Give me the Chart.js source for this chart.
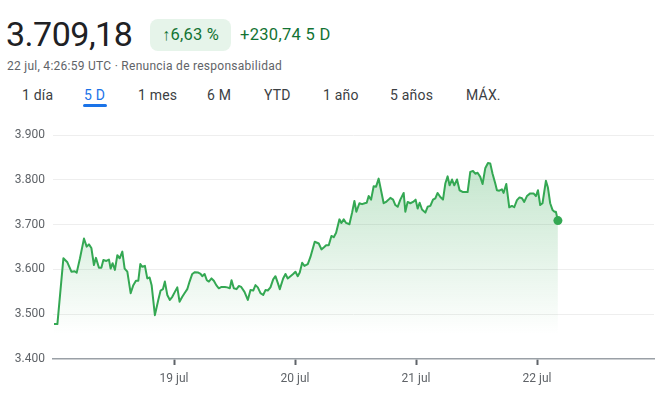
<!DOCTYPE html>
<html>
<head>
<meta charset="utf-8">
<script src="https://cdn.jsdelivr.net/npm/chart.js@4/dist/chart.umd.min.js"></script>
<style>
  body { margin:0; background:#fff; font-family: Roboto, "Noto Sans", sans-serif; }
  #wrap { position:relative; width:669px; height:393px; overflow:hidden; }
  .abs { position:absolute; white-space:nowrap; }
  #price { left:6px; top:14px; font-size:34px; color:#202124; letter-spacing:-0.5px; }
  #badge { left:150px; top:19px; width:81px; height:32px; background:#e6f4ea; border-radius:8px;
           color:#137333; font-size:16.5px; line-height:32px; text-align:center; letter-spacing:0.2px; }
  #chg { left:240px; top:19px; line-height:32px; font-size:16.5px; color:#137333; letter-spacing:0.3px; }
  #sub { left:7px; top:59px; font-size:12px; color:#5f6368; letter-spacing:0.27px; }
  .tab { top:87px; font-size:14px; color:#3c4043; letter-spacing:0.2px; }
  .tab.on { color:#1a73e8; }
  #under { left:83px; top:104px; width:24px; height:3px; border-radius:2px; background:#1a73e8; }
  #box { position:absolute; left:0; top:120px; width:669px; height:273px; }
</style>
</head>
<body>
<div id="wrap">
  <div id="price" class="abs">3.709,18</div>
  <div id="badge" class="abs">↑6,63 %</div>
  <div id="chg" class="abs">+230,74 5 D</div>
  <div id="sub" class="abs">22 jul, 4:26:59 UTC · Renuncia de responsabilidad</div>
  <div class="abs tab" style="left:22px">1 día</div>
  <div class="abs tab on" style="left:84px">5 D</div>
  <div class="abs tab" style="left:138px">1 mes</div>
  <div class="abs tab" style="left:207px">6 M</div>
  <div class="abs tab" style="left:264px">YTD</div>
  <div class="abs tab" style="left:323px">1 año</div>
  <div class="abs tab" style="left:390px">5 años</div>
  <div class="abs tab" style="left:466px">MÁX.</div>
  <div id="under" class="abs"></div>
  <div id="box"><canvas id="lineChart"></canvas></div>
</div>

<script>
// hours since 18 jul 00:00 UTC
var hours = [0.20,0.87,2.06,2.85,3.65,4.30,4.70,5.35,6.14,6.68,7.13,7.61,8.12,8.52,9.11,9.59,9.99,10.58,11.10,11.43,
  11.83,12.28,12.76,13.22,13.75,14.21,14.74,15.40,15.93,16.45,16.92,17.32,17.71,18.23,18.70,19.16,19.56,20.21,20.88,21.34,
  21.80,22.19,22.67,23.18,23.66,24.17,24.65,25.10,25.64,26.15,26.63,27.09,27.62,28.14,28.81,29.27,29.60,30.06,30.51,30.91,
  31.44,31.90,32.38,32.89,33.43,34.08,34.56,35.07,35.41,35.86,36.40,36.85,37.33,37.98,38.64,39.17,39.71,40.16,40.62,41.15,
  41.69,42.14,42.60,43.13,43.67,44.12,44.58,44.98,45.65,46.11,46.56,47.10,47.63,48.09,48.54,48.94,49.42,49.87,50.53,51.06,
  51.91,52.71,53.24,53.70,54.17,54.69,55.22,55.68,56.15,56.81,57.20,57.66,58.13,58.79,59.32,59.78,60.17,60.77,61.30,61.82,
  62.22,62.61,63.09,63.60,64.08,64.59,65.13,65.58,66.06,66.46,66.91,67.45,67.90,68.36,68.89,69.55,69.88,70.34,70.87,71.41,
  71.92,72.32,72.72,73.19,73.85,74.30,74.84,75.37,75.83,76.28,76.82,77.35,77.81,78.27,78.66,79.14,79.59,80.13,80.64,81.32,
  82.23,82.76,83.30,83.75,84.21,84.74,85.20,85.73,86.27,86.72,87.18,87.72,88.05,88.51,89.04,89.36,89.90,90.49,91.03,91.48,
  92.02,92.53,93.01,93.46,94.00,94.65,95.31,95.78,96.18,96.63,97.09,97.76,98.16,98.61,99.07,99.47,99.74,100.14];

var prices = [3478,3478,3625,3616,3595,3596,3593,3625,3669,3651,3656,3648,3610,3626,3604,3604,3621,3619,3622,3602,
  3614,3599,3632,3625,3640,3602,3595,3547,3565,3575,3575,3612,3606,3608,3580,3582,3565,3498,3532,3553,
  3556,3573,3543,3532,3539,3550,3560,3528,3539,3548,3556,3573,3590,3594,3593,3590,3585,3590,3576,3573,
  3580,3575,3565,3558,3561,3561,3560,3558,3576,3558,3556,3563,3561,3550,3532,3554,3553,3565,3560,3547,
  3543,3554,3553,3560,3578,3585,3570,3556,3580,3590,3580,3585,3590,3595,3585,3593,3615,3608,3612,3628,
  3662,3658,3645,3649,3654,3654,3675,3672,3682,3712,3704,3712,3704,3701,3727,3753,3729,3748,3746,3748,
  3749,3764,3756,3786,3785,3803,3773,3748,3751,3755,3760,3756,3744,3740,3756,3771,3729,3751,3748,3751,
  3756,3736,3749,3734,3727,3740,3742,3756,3759,3771,3762,3756,3792,3808,3788,3801,3788,3801,3777,3773,
  3773,3818,3820,3814,3816,3807,3791,3826,3838,3837,3814,3792,3777,3776,3779,3771,3791,3739,3742,3739,
  3755,3761,3759,3751,3764,3770,3770,3764,3777,3744,3748,3798,3783,3748,3733,3729,3729,3709.18];

var dayTicks = [24, 48, 72, 96];
var dayLabels = ['19 jul', '20 jul', '21 jul', '22 jul'];
var priceTicks = [3400, 3500, 3600, 3700, 3800, 3900];

var green = '#34a853';
var points = hours.map(function (h, i) { return { x: h, y: prices[i] }; });

function fmt(v) {
  var s = String(v);
  return s.slice(0, s.length - 3) + '.' + s.slice(-3);
}

var ctx = document.getElementById('lineChart').getContext('2d');

var chart = new Chart(ctx, {
  type: 'line',
  data: {
    datasets: [{
      data: points,
      borderColor: green,
      borderWidth: 2,
      borderJoinStyle: 'round',
      tension: 0,
      fill: 'start',
      backgroundColor: function (c) {
        var a = c.chart.chartArea;
        if (!a) return 'rgba(52,168,83,0.2)';
        var g = c.chart.ctx.createLinearGradient(0, a.top + 25, 0, a.bottom - 25);
        g.addColorStop(0, 'rgba(52,168,83,0.30)');
        g.addColorStop(1, 'rgba(52,168,83,0)');
        return g;
      },
      pointRadius: function (c) { return c.dataIndex === prices.length - 1 ? 4.5 : 0; },
      pointBackgroundColor: green,
      pointBorderWidth: 0
    }]
  },
  options: {
    responsive: true,
    maintainAspectRatio: false,
    animation: false,
    layout: { padding: { top: 15, right: 15, left: 0, bottom: 0 } },
    plugins: { legend: { display: false }, tooltip: { enabled: false } },
    scales: {
      x: {
        type: 'linear',
        min: 0,
        max: 119.2,
        afterBuildTicks: function (s) { s.ticks = dayTicks.map(function (v) { return { value: v }; }); },
        afterFit: function (s) { s.height = 34; },
        ticks: {
          callback: function (v) { return dayLabels[dayTicks.indexOf(v)]; },
          color: '#5f6368',
          font: { family: 'Roboto', size: 12 },
          padding: 7,
          maxRotation: 0,
          autoSkip: false
        },
        grid: { drawOnChartArea: false, drawTicks: true, tickLength: 6, tickWidth: 2, tickColor: '#5f6368' },
        border: { color: '#9aa0a6', width: 1.5 }
      },
      y: {
        min: 3400,
        max: 3900,
        afterBuildTicks: function (s) { s.ticks = priceTicks.map(function (v) { return { value: v }; }); },
        afterFit: function (s) { s.width = 53; },
        ticks: {
          callback: function (v) { return fmt(v); },
          color: '#5f6368',
          font: { family: 'Roboto', size: 12 },
          padding: 8
        },
        grid: {
          drawTicks: false,
          color: function (c) { return c.tick && c.tick.value === 3400 ? 'rgba(0,0,0,0)' : '#eeeeee'; }
        },
        border: { display: false }
      }
    }
  }
});
</script>
</body>
</html>
